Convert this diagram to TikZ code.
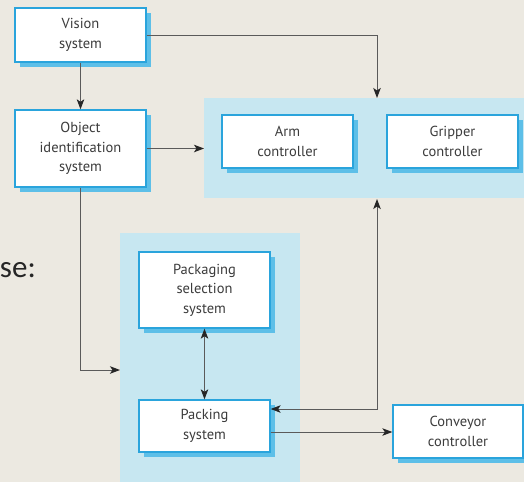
\documentclass[tikz,border=0pt]{standalone}
\usepackage{fontspec}
\setmainfont{PT Sans}
\newfontfamily\slidefont{Carlito}
\usetikzlibrary{arrows.meta,shadows}
\definecolor{pagebg}{HTML}{ECE9E1}
\definecolor{zonefill}{HTML}{C7E7F1}
\definecolor{boxedge}{HTML}{2AA4DC}
\definecolor{boxshade}{HTML}{5DBFE8}
\definecolor{wire}{HTML}{5A5A5A}
\definecolor{tipfill}{HTML}{262626}
\definecolor{labeltext}{HTML}{3C3C3C}
\tikzset{
  unit/.style={rectangle, draw=boxedge, line width=1.3pt, fill=white,
    text=labeltext, align=center, inner sep=2pt,
    font=\fontsize{14.5}{19.5}\selectfont,
    drop shadow={shadow xshift=5pt, shadow yshift=-5pt, fill=boxshade, opacity=1}},
  zone/.style={rectangle, fill=zonefill, draw=none, inner sep=0pt},
  tip/.style={Stealth[length=10pt,width=7.5pt,inset=2.5pt,color=tipfill]},
  link/.style={draw=wire, line width=1pt, -{Stealth[length=10pt,width=7.5pt,inset=2.5pt,color=tipfill]}},
  duplex/.style={draw=wire, line width=1pt,
    {Stealth[length=10pt,width=7.5pt,inset=2.5pt,color=tipfill]}-{Stealth[length=10pt,width=7.5pt,inset=2.5pt,color=tipfill]}}
}
\begin{document}
\begin{tikzpicture}[x=1pt,y=-1pt]
  \fill[pagebg] (0,0) rectangle (524,482);
  \useasboundingbox (0,0) rectangle (524,482);

  % shaded groups
  \node[zone, minimum width=320, minimum height=100, anchor=north west] (ctrlzone) at (204,98) {};
  \node[zone, minimum width=180, minimum height=249, anchor=north west] (packzone) at (120,233) {};

  % processing units
  \node[unit, minimum width=131, minimum height=54] (vision) at (80.5,35) {Vision\\system};
  \node[unit, minimum width=131, minimum height=77] (objid) at (80.5,148.5) {Object\\identification\\system};
  \node[unit, minimum width=131, minimum height=53] (arm) at (287.5,141.5) {Arm\\controller};
  \node[unit, minimum width=131, minimum height=53] (grip) at (452.5,141.5) {Gripper\\controller};
  \node[unit, minimum width=131, minimum height=76] (pksel) at (204.5,290) {Packaging\\selection\\system};
  \node[unit, minimum width=131, minimum height=52] (packing) at (204.5,426) {Packing\\system};
  \node[unit, minimum width=130, minimum height=53] (conv) at (458,431.5) {Conveyor\\controller};

  % slide text at the left edge
  \node[anchor=base east, inner sep=0pt, text=black!85,
        font=\slidefont\fontsize{31}{36}\selectfont] (slidetext) at (36,277) {se:};

  % connection points on the groups
  \coordinate (ctrltop) at (377,98);
  \coordinate (ctrlbot) at (377,199);
  \coordinate (packin) at (120,370);

  % connectors
  \draw[link] (vision.south) -- (objid.north);
  \draw[link] (vision.east) -| (ctrltop);
  \draw[link] (objid.east) -- (objid.east -| ctrlzone.west);
  \draw[link] (objid.south) |- (packin);
  \draw[duplex] (pksel.south) -- (packing.north);
  \draw[duplex] (ctrlbot) |- (packing.east |- 0,409);
  \draw[link] (packing.east |- 0,432) -- (conv.west |- 0,432);
\end{tikzpicture}
\end{document}
